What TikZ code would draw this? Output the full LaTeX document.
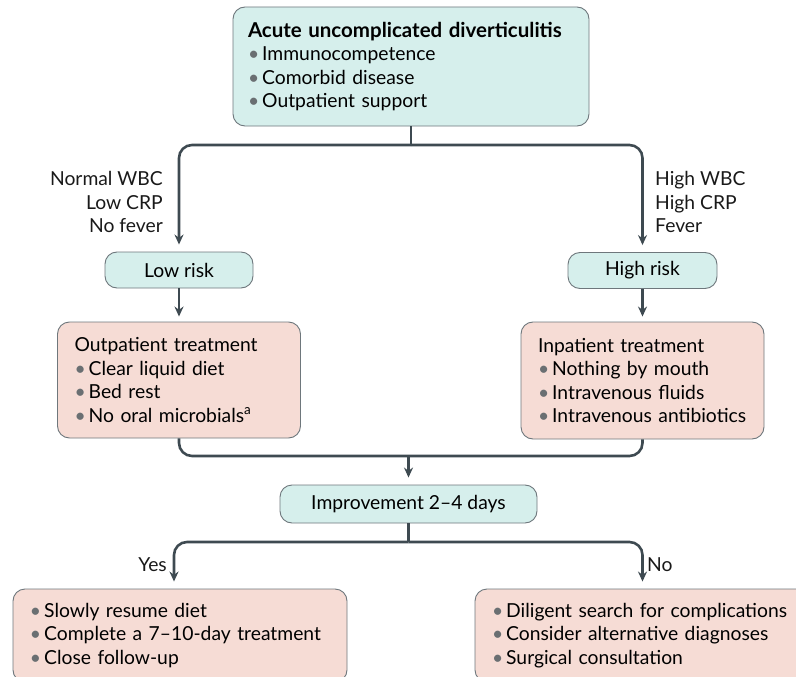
\documentclass[tikz,border=0pt]{standalone}
\usepackage{fontspec}
\setmainfont{Lato}
\usetikzlibrary{arrows.meta}
\definecolor{boxteal}{HTML}{D6EFEC}
\definecolor{boxpink}{HTML}{F6DCD5}
\definecolor{edgegray}{HTML}{6E777C}
\definecolor{linedark}{HTML}{3E4A51}
\definecolor{bulgray}{HTML}{6A6F72}
\newcommand{\bul}{{\color{bulgray}\textbullet}\hspace{3pt}}
\begin{document}
\begin{tikzpicture}[x=1pt,y=1pt,yscale=-1,
	font=\fontsize{19.3}{23.5}\selectfont,
	tealbox/.style={draw=edgegray, line width=0.9pt, fill=boxteal, rounded corners=12pt},
	pinkbox/.style={draw=edgegray, line width=0.9pt, fill=boxpink, rounded corners=12pt, align=left, inner xsep=17pt},
	pillbox/.style={tealbox, minimum height=36pt, inner sep=0pt},
	lbl/.style={inner sep=0pt, text=black!90},
	conn/.style={draw=linedark, line width=2.6pt, rounded corners=13pt},
	arr/.style={conn, -{Stealth[length=10pt,width=9pt]}, shorten >=7pt}]
	\useasboundingbox (0,0) rectangle (796,677);
	%Shape: top box
	\node[tealbox, align=left, inner xsep=15pt, text width=326pt, minimum height=119pt] (acute) at (411,66.5)
		{{\fontsize{20.5}{23.5}\selectfont\textbf{Acute uncomplicated diverticulitis}}\\\bul Immunocompetence\\\bul Comorbid disease\\\bul Outpatient support};
	%Shape: risk boxes
	\node[pillbox, minimum width=148pt] (lowrisk) at (179,270) {Low risk};
	\node[pillbox, minimum width=149pt] (highrisk) at (642.5,270.5) {High risk};
	%Shape: treatment boxes
	\node[pinkbox, text width=209pt, minimum height=116pt] (outpt) at (179,380)
		{Outpatient treatment\\\bul Clear liquid diet\\\bul Bed rest\\\bul No oral microbials\textsuperscript{a}};
	\node[pinkbox, text width=209pt, minimum height=117pt] (inpt) at (642.5,380.5)
		{Inpatient treatment\\\bul Nothing by mouth\\\bul Intravenous fluids\\\bul Intravenous antibiotics};
	%Shape: improvement
	\node[pillbox, minimum width=257pt, minimum height=38pt] (improve) at (408.5,504) {Improvement 2--4 days};
	%Shape: outcome boxes
	\node[pinkbox, text width=300pt, minimum height=93pt] (yesbox) at (180,635.5)
		{\bul Slowly resume diet\\\bul Complete a 7--10-day treatment\\\bul Close follow-up};
	\node[pinkbox, text width=301pt, minimum height=93pt] (nobox) at (642.5,635.5)
		{\bul Diligent search for complications\\\bul Consider alternative diagnoses\\\bul Surgical consultation};
	%Labels
	\node[lbl, anchor=east, align=right] (lowcrit) at (163,202) {Normal WBC\\Low CRP\\No fever};
	\node[lbl, anchor=west, align=left] (highcrit) at (655,202) {High WBC\\High CRP\\Fever};
	\node[lbl, anchor=east] (yes) at (167,565) {Yes};
	\node[lbl, anchor=west] (no) at (647,565) {No};
	%Connectors
	\coordinate (split) at (411,145);
	\coordinate (merge) at (408.5,456);
	\coordinate (split2) at (408.5,542);
	\draw[conn] (acute.south) -- (split);
	\draw[arr] (split) -| (lowrisk.north);
	\draw[arr] (split) -| (highrisk.north);
	\draw[arr, shorten >=5pt] (lowrisk.south) -- (outpt.north);
	\draw[arr, shorten >=5pt] (highrisk.south) -- (inpt.north);
	\draw[conn] (outpt.south) |- (merge) -| (inpt.south);
	\draw[arr] (merge) -- (improve.north);
	\draw[conn] (improve.south) -- (split2);
	\draw[arr] (split2) -| ([xshift=-6pt]yesbox.north);
	\draw[arr] (split2) -| (nobox.north);
\end{tikzpicture}
\end{document}
